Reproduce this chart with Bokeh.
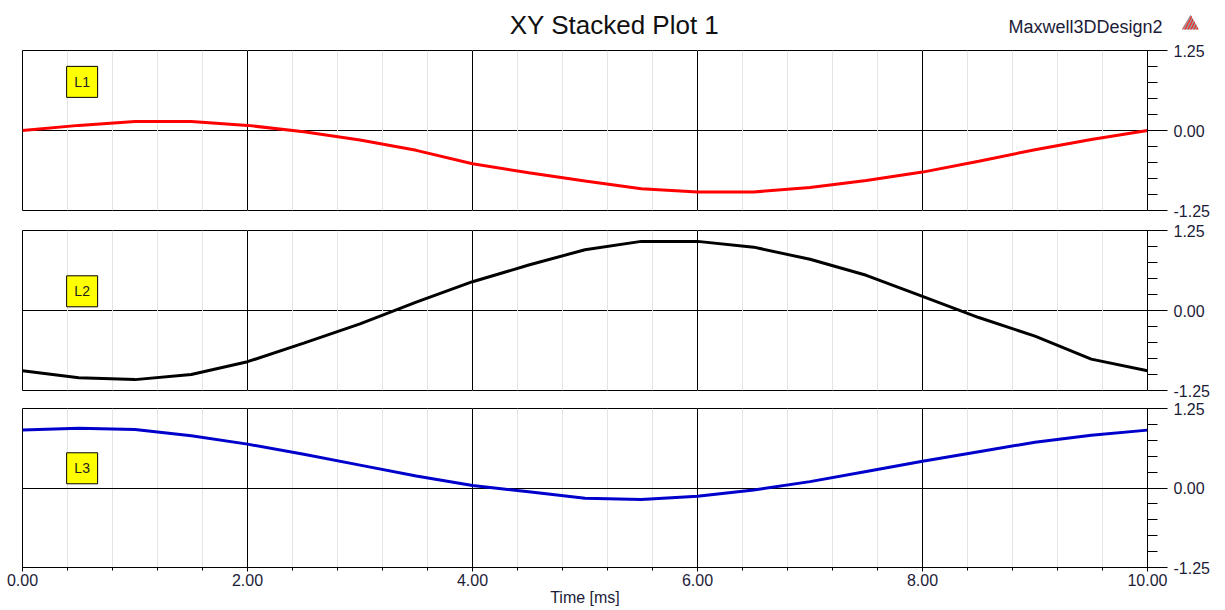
from bokeh.plotting import figure
from bokeh.layouts import column
from bokeh.models import (Range1d, SingleIntervalTicker, FixedTicker, Grid,
                          PrintfTickFormatter)
from bokeh.core.properties import value
from bokeh.embed import file_html
from bokeh.resources import INLINE

# ---------------- data ----------------
time_ms = [0.0, 0.5, 1.0, 1.5, 2.0, 2.5, 3.0, 3.5, 4.0, 4.5, 5.0,
           5.5, 6.0, 6.5, 7.0, 7.5, 8.0, 8.5, 9.0, 9.5, 10.0]
L1 = [0.00, 0.08, 0.14, 0.14, 0.08, -0.02, -0.15, -0.31, -0.52, -0.66, -0.79,
      -0.91, -0.96, -0.96, -0.89, -0.78, -0.65, -0.48, -0.30, -0.14, 0.00]
L2 = [-0.94, -1.05, -1.08, -1.00, -0.80, -0.51, -0.21, 0.13, 0.45, 0.71, 0.95,
      1.08, 1.08, 0.99, 0.80, 0.55, 0.22, -0.11, -0.40, -0.76, -0.94]
L3 = [0.91, 0.94, 0.92, 0.82, 0.69, 0.53, 0.36, 0.19, 0.04, -0.06, -0.16,
      -0.18, -0.13, -0.03, 0.10, 0.26, 0.42, 0.57, 0.72, 0.83, 0.91]
series_names = ["L1", "L2", "L3"]
series_colors = ["#ff0000", "#000000", "#0000cc"]
tag_x = [0.53, 0.53, 0.53]
tag_y = [0.76, 0.30, 0.31]
y_ticks = [-1.25, 0.0, 1.25]
y_minor = [-1.0, -0.75, -0.5, -0.25, 0.25, 0.5, 0.75, 1.0]
title_text = "XY Stacked Plot 1"
design_text = "Maxwell3DDesign2"
x_label = "Time [ms]"

FONT = "Liberation Sans"
TXT = "#1c1c38"
W = 1215
HEAD_H = 40
x_range = Range1d(0, 10)

# ---------------- header (title row, separate root so it is not frame-aligned) ----
head = figure(width=W, height=HEAD_H, x_range=Range1d(0, W), y_range=Range1d(HEAD_H, 0),
              output_backend="svg", toolbar_location=None,
              x_axis_location=None, y_axis_location=None,
              min_border=0)
head.outline_line_color = None
head.xgrid.visible = False
head.ygrid.visible = False
head.text([614], [24.5], text=[title_text], text_align="center", text_baseline="middle",
          text_font=value(FONT), text_font_size="26px", text_color="#111111",
          text_line_height=1.0)
head.text([1162], [26], text=[design_text], text_align="right", text_baseline="middle",
          text_font=value(FONT), text_font_size="18px", text_color=TXT,
          text_line_height=1.0)
head.scatter([1190], [24], marker="triangle", size=17, fill_color="#9a9a9a",
             line_color=None, hatch_pattern="/", hatch_color="#ff2020",
             hatch_scale=6, hatch_weight=1.2)


def panel(i, data, height, top, bottom, with_axis):
    p = figure(width=W, height=height, x_range=x_range, y_range=Range1d(-1.25, 1.25),
               output_backend="svg", toolbar_location=None,
               x_axis_location="below" if with_axis else None,
               y_axis_location="right",
               min_border_left=22, min_border_right=W - 1147,
               min_border_top=top, min_border_bottom=bottom)
    p.background_fill_color = "white"
    p.border_fill_color = "white"
    p.outline_line_color = "#000000"
    p.outline_line_width = 1
    p.outline_line_alpha = 1

    xt = SingleIntervalTicker(interval=2, num_minor_ticks=5)
    if with_axis:
        ax = p.xaxis[0]
        ax.ticker = xt
        ax.formatter = PrintfTickFormatter(format="%.2f")
        ax.major_tick_in = 0
        ax.major_tick_out = 4
        ax.minor_tick_in = 0
        ax.minor_tick_out = 3
        ax.axis_line_color = "#000000"
        ax.major_tick_line_color = "#000000"
        ax.minor_tick_line_color = "#000000"
        ax.major_label_text_font = FONT
        ax.major_label_text_font_size = "16px"
        ax.major_label_text_color = TXT
        ax.major_label_standoff = 2
        ax.axis_label = x_label
        ax.axis_label_text_font = FONT
        ax.axis_label_text_font_size = "16px"
        ax.axis_label_text_font_style = "normal"
        ax.axis_label_text_color = TXT
        ax.axis_label_standoff = 0
        g = p.xgrid[0]
    else:
        g = Grid(dimension=0, ticker=xt)
        p.add_layout(g)
    g.grid_line_color = "#000000"
    g.grid_line_width = 1
    g.minor_grid_line_color = "#e4e4e4"
    g.minor_grid_line_width = 1

    ya = p.yaxis[0]
    ya.ticker = FixedTicker(ticks=y_ticks, minor_ticks=y_minor)
    ya.formatter = PrintfTickFormatter(format="%.2f")
    ya.major_tick_in = 0
    ya.major_tick_out = 20
    ya.minor_tick_in = 0
    ya.minor_tick_out = 10
    ya.axis_line_color = "#000000"
    ya.major_tick_line_color = "#000000"
    ya.minor_tick_line_color = "#000000"
    ya.major_label_text_font = FONT
    ya.major_label_text_font_size = "16px"
    ya.major_label_text_color = TXT
    ya.major_label_standoff = 6

    p.ygrid[0].ticker = FixedTicker(ticks=[0.0])
    p.ygrid[0].grid_line_color = "#000000"
    p.ygrid[0].grid_line_width = 1

    p.line(time_ms, data, line_color=series_colors[i], line_width=3)

    p.scatter([tag_x[i]], [tag_y[i]], marker="square", size=31,
              fill_color="#ffff00", line_color="#000000", line_width=1)
    p.text([tag_x[i]], [tag_y[i]], text=[series_names[i]], text_align="center",
           text_baseline="middle", text_font=value(FONT), text_font_size="14px",
           text_color="#222222")
    return p


p1 = panel(0, L1, 180, 10, 10, False)
p2 = panel(1, L2, 179, 10, 9, False)
p3 = panel(2, L3, 210, 9, 42, True)

layout = column(p1, p2, p3, spacing=0)
open("out.html", "w").write(file_html([head, layout], INLINE))
